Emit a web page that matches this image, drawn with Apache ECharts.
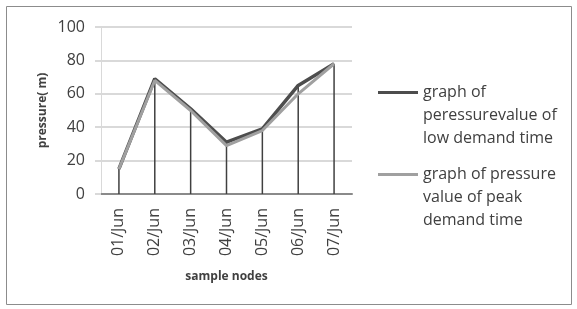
<!DOCTYPE html>
<html>
<head>
<meta charset="utf-8">
<script src="https://cdn.jsdelivr.net/npm/echarts@6/dist/echarts.min.js"></script>
<style>
  html, body { margin: 0; padding: 0; background: #fff; }
  #chart { width: 577px; height: 309px; }
</style>
</head>
<body>
<div id="chart"></div>
<script>
const categories = ["01/Jun", "02/Jun", "03/Jun", "04/Jun", "05/Jun", "06/Jun", "07/Jun"];
const lowDemand = [15, 69, 51, 31, 39, 65, 78];
const peakDemand = [15, 68, 50, 29, 38, 60, 78];
const yTicks = [0, 20, 40, 60, 80, 100];

const lowName = "graph of\nperessurevalue of\nlow demand time";
const peakName = "graph of pressure\nvalue of peak\ndemand time";

// drop lines go from the higher of the two points down to the axis
const dropLines = lowDemand.map((v, i) => Math.max(v, peakDemand[i]));

const font = "Open Sans";
const chart = echarts.init(document.getElementById("chart"));

// two blank lines in front so the icon sits level with the first text line
const legendBase = {
  left: 378,
  padding: 0,
  icon: "rect",
  itemWidth: 40,
  itemHeight: 3,
  formatter: (name) => "\n\n" + name,
  textStyle: { fontFamily: font, fontSize: 16, color: "#404040", lineHeight: 23 },
};

chart.setOption({
  animation: false,
  graphic: [
    {
      type: "rect",
      shape: { x: 6.5, y: 6.5, width: 565, height: 298 },
      style: { fill: "none", stroke: "#8c8c8c", lineWidth: 1 },
      z: -1,
    },
  ],
  grid: { left: 101, right: 225, top: 27, bottom: 115 },
  legend: [
    Object.assign({}, legendBase, { data: [lowName], top: 35 }),
    Object.assign({}, legendBase, { data: [peakName], top: 117 }),
  ],
  xAxis: {
    type: "category",
    data: categories,
    boundaryGap: true,
    name: "sample nodes",
    nameLocation: "middle",
    nameGap: 77,
    nameTextStyle: { fontFamily: font, fontSize: 12, fontWeight: "bold", color: "#404040" },
    axisLine: { lineStyle: { color: "#8a8a8a", width: 2 } },
    axisTick: { show: false },
    axisLabel: {
      rotate: 90,
      fontFamily: font,
      fontSize: 16,
      color: "#404040",
      margin: 14,
    },
  },
  yAxis: {
    type: "value",
    min: 0,
    max: 100,
    interval: 20,
    name: "pressure( m)",
    nameLocation: "middle",
    nameGap: 52,
    nameTextStyle: { fontFamily: font, fontSize: 12, fontWeight: "bold", color: "#404040" },
    axisLine: { show: true, lineStyle: { color: "#d9d9d9", width: 1 } },
    axisTick: { show: true, length: 6, lineStyle: { color: "#d9d9d9", width: 2 } },
    splitLine: { lineStyle: { color: "#d9d9d9", width: 2 } },
    axisLabel: {
      fontFamily: font,
      fontSize: 16,
      color: "#404040",
      margin: 16,
      formatter: (v) => (yTicks.includes(v) ? String(v) : ""),
    },
  },
  series: [
    {
      name: "drop",
      type: "bar",
      data: dropLines,
      barWidth: 1.5,
      itemStyle: { color: "#404040" },
      silent: true,
      z: 1,
    },
    {
      name: lowName,
      type: "line",
      data: lowDemand,
      symbol: "none",
      lineStyle: { color: "#4d4d4d", width: 3.5 },
      itemStyle: { color: "#4d4d4d" },
      z: 3,
    },
    {
      name: peakName,
      type: "line",
      data: peakDemand,
      symbol: "none",
      lineStyle: { color: "#a0a0a0", width: 3 },
      itemStyle: { color: "#a0a0a0" },
      z: 4,
    },
  ],
});
</script>
</body>
</html>
